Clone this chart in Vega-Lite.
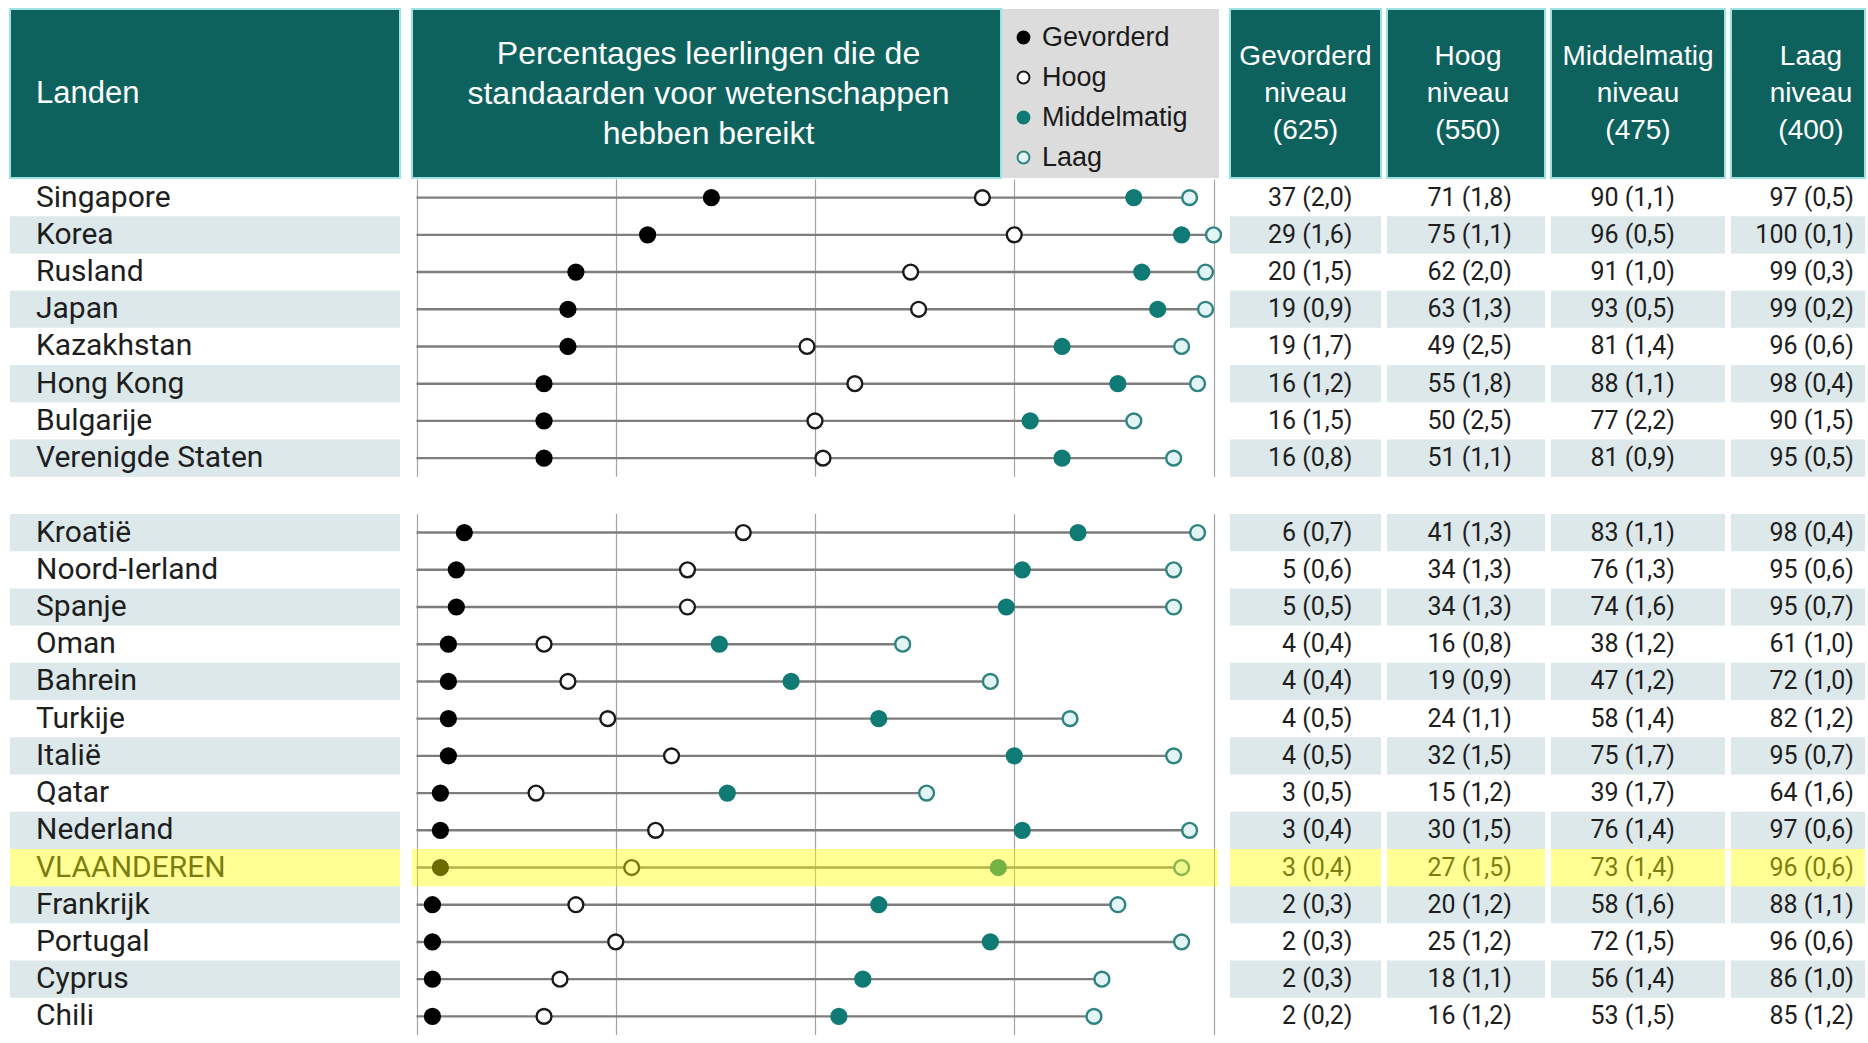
{
  "$schema": "https://vega.github.io/schema/vega-lite/v6.json",
  "background": "white",
  "padding": {"left": 9, "top": 8, "right": 0, "bottom": 0},
  "config": {"view": {"stroke": null}},
  "datasets": {
    "landen": [
      {"land": "Singapore", "groep": 1, "Gevorderd": 37, "Gevorderd_se": 2.0, "Hoog": 71, "Hoog_se": 1.8, "Middelmatig": 90, "Middelmatig_se": 1.1, "Laag": 97, "Laag_se": 0.5},
      {"land": "Korea", "groep": 1, "Gevorderd": 29, "Gevorderd_se": 1.6, "Hoog": 75, "Hoog_se": 1.1, "Middelmatig": 96, "Middelmatig_se": 0.5, "Laag": 100, "Laag_se": 0.1},
      {"land": "Rusland", "groep": 1, "Gevorderd": 20, "Gevorderd_se": 1.5, "Hoog": 62, "Hoog_se": 2.0, "Middelmatig": 91, "Middelmatig_se": 1.0, "Laag": 99, "Laag_se": 0.3},
      {"land": "Japan", "groep": 1, "Gevorderd": 19, "Gevorderd_se": 0.9, "Hoog": 63, "Hoog_se": 1.3, "Middelmatig": 93, "Middelmatig_se": 0.5, "Laag": 99, "Laag_se": 0.2},
      {"land": "Kazakhstan", "groep": 1, "Gevorderd": 19, "Gevorderd_se": 1.7, "Hoog": 49, "Hoog_se": 2.5, "Middelmatig": 81, "Middelmatig_se": 1.4, "Laag": 96, "Laag_se": 0.6},
      {"land": "Hong Kong", "groep": 1, "Gevorderd": 16, "Gevorderd_se": 1.2, "Hoog": 55, "Hoog_se": 1.8, "Middelmatig": 88, "Middelmatig_se": 1.1, "Laag": 98, "Laag_se": 0.4},
      {"land": "Bulgarije", "groep": 1, "Gevorderd": 16, "Gevorderd_se": 1.5, "Hoog": 50, "Hoog_se": 2.5, "Middelmatig": 77, "Middelmatig_se": 2.2, "Laag": 90, "Laag_se": 1.5},
      {"land": "Verenigde Staten", "groep": 1, "Gevorderd": 16, "Gevorderd_se": 0.8, "Hoog": 51, "Hoog_se": 1.1, "Middelmatig": 81, "Middelmatig_se": 0.9, "Laag": 95, "Laag_se": 0.5},
      {"land": "Kroatië", "groep": 2, "Gevorderd": 6, "Gevorderd_se": 0.7, "Hoog": 41, "Hoog_se": 1.3, "Middelmatig": 83, "Middelmatig_se": 1.1, "Laag": 98, "Laag_se": 0.4},
      {"land": "Noord-Ierland", "groep": 2, "Gevorderd": 5, "Gevorderd_se": 0.6, "Hoog": 34, "Hoog_se": 1.3, "Middelmatig": 76, "Middelmatig_se": 1.3, "Laag": 95, "Laag_se": 0.6},
      {"land": "Spanje", "groep": 2, "Gevorderd": 5, "Gevorderd_se": 0.5, "Hoog": 34, "Hoog_se": 1.3, "Middelmatig": 74, "Middelmatig_se": 1.6, "Laag": 95, "Laag_se": 0.7},
      {"land": "Oman", "groep": 2, "Gevorderd": 4, "Gevorderd_se": 0.4, "Hoog": 16, "Hoog_se": 0.8, "Middelmatig": 38, "Middelmatig_se": 1.2, "Laag": 61, "Laag_se": 1.0},
      {"land": "Bahrein", "groep": 2, "Gevorderd": 4, "Gevorderd_se": 0.4, "Hoog": 19, "Hoog_se": 0.9, "Middelmatig": 47, "Middelmatig_se": 1.2, "Laag": 72, "Laag_se": 1.0},
      {"land": "Turkije", "groep": 2, "Gevorderd": 4, "Gevorderd_se": 0.5, "Hoog": 24, "Hoog_se": 1.1, "Middelmatig": 58, "Middelmatig_se": 1.4, "Laag": 82, "Laag_se": 1.2},
      {"land": "Italië", "groep": 2, "Gevorderd": 4, "Gevorderd_se": 0.5, "Hoog": 32, "Hoog_se": 1.5, "Middelmatig": 75, "Middelmatig_se": 1.7, "Laag": 95, "Laag_se": 0.7},
      {"land": "Qatar", "groep": 2, "Gevorderd": 3, "Gevorderd_se": 0.5, "Hoog": 15, "Hoog_se": 1.2, "Middelmatig": 39, "Middelmatig_se": 1.7, "Laag": 64, "Laag_se": 1.6},
      {"land": "Nederland", "groep": 2, "Gevorderd": 3, "Gevorderd_se": 0.4, "Hoog": 30, "Hoog_se": 1.5, "Middelmatig": 76, "Middelmatig_se": 1.4, "Laag": 97, "Laag_se": 0.6},
      {"land": "VLAANDEREN", "groep": 2, "Gevorderd": 3, "Gevorderd_se": 0.4, "Hoog": 27, "Hoog_se": 1.5, "Middelmatig": 73, "Middelmatig_se": 1.4, "Laag": 96, "Laag_se": 0.6},
      {"land": "Frankrijk", "groep": 2, "Gevorderd": 2, "Gevorderd_se": 0.3, "Hoog": 20, "Hoog_se": 1.2, "Middelmatig": 58, "Middelmatig_se": 1.6, "Laag": 88, "Laag_se": 1.1},
      {"land": "Portugal", "groep": 2, "Gevorderd": 2, "Gevorderd_se": 0.3, "Hoog": 25, "Hoog_se": 1.2, "Middelmatig": 72, "Middelmatig_se": 1.5, "Laag": 96, "Laag_se": 0.6},
      {"land": "Cyprus", "groep": 2, "Gevorderd": 2, "Gevorderd_se": 0.3, "Hoog": 18, "Hoog_se": 1.1, "Middelmatig": 56, "Middelmatig_se": 1.4, "Laag": 86, "Laag_se": 1.0},
      {"land": "Chili", "groep": 2, "Gevorderd": 2, "Gevorderd_se": 0.2, "Hoog": 16, "Hoog_se": 1.2, "Middelmatig": 53, "Middelmatig_se": 1.5, "Laag": 85, "Laag_se": 1.2}
    ]
  },
  "spacing": 10,
  "hconcat": [
    {
      "spacing": 0,
      "vconcat": [
        {
          "width": 390, "height": 169,
          "view": {"fill": "#0e625e", "stroke": "#9fe2e4", "strokeWidth": 2},
          "data": {"values": [{"t": "Landen"}]},
          "mark": {"type": "text", "align": "left", "baseline": "middle", "dx": -169, "font": "Liberation Sans", "fontSize": 31, "fill": "white"},
          "encoding": {"text": {"field": "t", "type": "nominal"}}
        },
        {
          "width": 390, "height": 856,
          "data": {"name": "landen"},
          "transform": [
            {"window": [{"op": "row_number", "as": "nr"}]},
            {"calculate": "datum.nr + (datum.groep == 2 ? 1 : 0)", "as": "idx"}
          ],
          "encoding": {"y": {"field": "land", "type": "nominal", "sort": null, "axis": null, "scale": {"paddingInner": 0, "paddingOuter": 0, "domain": ["Singapore","Korea","Rusland","Japan","Kazakhstan","Hong Kong","Bulgarije","Verenigde Staten"," ","Kroatië","Noord-Ierland","Spanje","Oman","Bahrein","Turkije","Italië","Qatar","Nederland","VLAANDEREN","Frankrijk","Portugal","Cyprus","Chili"]}}},
          "layer": [
            {"transform": [{"filter": "datum.idx % 2 == 0"}], "mark": {"type": "rect", "fill": "#dce8ea"}},
            {"mark": {"type": "text", "align": "left", "baseline": "middle", "dx": -169, "font": "Roboto", "fontSize": 30, "fill": "#1e1e1e"}, "encoding": {"text": {"field": "land", "type": "nominal"}}},
            {"transform": [{"filter": "datum.land == 'VLAANDEREN'"}], "mark": {"type": "rect", "fill": "#ffff00", "opacity": 0.42}}
          ]
        }
      ]
    },
    {
      "spacing": 3,
      "hconcat": [
        {
          "spacing": 0,
          "vconcat": [
            {
              "spacing": 0,
              "hconcat": [
                {
                  "width": 589, "height": 169,
                  "view": {"fill": "#0e625e", "stroke": "#9fe2e4", "strokeWidth": 2},
                  "data": {"values": [{"t": ["Percentages leerlingen die de", "standaarden voor wetenschappen", "hebben bereikt"]}]},
                  "mark": {"type": "text", "align": "center", "baseline": "middle", "dx": 2, "dy": -40, "lineHeight": 40, "font": "Liberation Sans", "fontSize": 32, "fill": "white"},
                  "encoding": {"text": {"field": "t", "type": "nominal"}}
                },
                {
                  "width": 217, "height": 169,
                  "view": {"fill": "#dcdcdc", "stroke": null},
                  "data": {"values": [{"t": ""}]},
                  "mark": {"type": "text"},
                  "encoding": {"text": {"field": "t", "type": "nominal"}}
                }
              ]
            },
            {
              "width": 806, "height": 856,
              "data": {"name": "landen"},
              "encoding": {"y": {"field": "land", "type": "nominal", "sort": null, "axis": null, "scale": {"paddingInner": 0, "paddingOuter": 0, "domain": ["Singapore","Korea","Rusland","Japan","Kazakhstan","Hong Kong","Bulgarije","Verenigde Staten"," ","Kroatië","Noord-Ierland","Spanje","Oman","Bahrein","Turkije","Italië","Qatar","Nederland","VLAANDEREN","Frankrijk","Portugal","Cyprus","Chili"]}}},
              "layer": [
                {
                  "data": {"values": [{"land": " "}]},
                  "mark": {"type": "rect", "fill": "white"}
                },
                {
                  "mark": {"type": "rule", "color": "#7d7d7d", "strokeWidth": 2.4},
                  "encoding": {
                    "x": {"field": "Laag", "type": "quantitative", "scale": {"domain": [0, 100], "nice": false, "zero": false, "padding": 4.5}, "axis": {"grid": true, "values": [0, 25, 50, 75, 100], "labels": false, "ticks": false, "domain": false, "title": null, "gridColor": "#a3a3a3", "gridWidth": 1.2}},
                    "x2": {"datum": 0}
                  }
                },
                {
                  "transform": [{"fold": ["Gevorderd", "Hoog", "Middelmatig", "Laag"], "as": ["niveau", "pct"]}],
                  "mark": {"type": "circle", "size": 220, "strokeWidth": 2.4, "opacity": 1, "fillOpacity": 1},
                  "encoding": {
                    "x": {"field": "pct", "type": "quantitative", "scale": {"domain": [0, 100], "nice": false, "zero": false, "padding": 4.5}},
                    "fill": {"field": "niveau", "type": "nominal", "scale": {"domain": ["Gevorderd", "Hoog", "Middelmatig", "Laag"], "range": ["#000000", "#ffffff", "#107a74", "#e3f4f4"]}, "legend": {"title": null, "orient": "none", "legendX": 1000, "legendY": 15, "padding": 0, "symbolType": "circle", "symbolSize": 140, "symbolStrokeWidth": 2, "labelFont": "Liberation Sans", "labelFontSize": 27, "labelColor": "#1a1a1a", "labelOffset": 5, "rowPadding": 12}},
                    "stroke": {"field": "niveau", "type": "nominal", "scale": {"domain": ["Gevorderd", "Hoog", "Middelmatig", "Laag"], "range": ["#000000", "#1a1a1a", "#107a74", "#2f8380"]}, "legend": {"title": null, "orient": "none", "legendX": 1000, "legendY": 15, "padding": 0, "symbolType": "circle", "symbolSize": 140, "symbolStrokeWidth": 2, "labelFont": "Liberation Sans", "labelFontSize": 27, "labelColor": "#1a1a1a", "labelOffset": 5, "rowPadding": 12}}
                  }
                },
                {"transform": [{"filter": "datum.land == 'VLAANDEREN'"}], "mark": {"type": "rect", "fill": "#ffff00", "opacity": 0.42}}
              ]
            }
          ]
        },
        {
          "spacing": 4,
          "hconcat": [
            {
              "spacing": 0,
              "vconcat": [
                {
                  "width": 151, "height": 169,
                  "view": {"fill": "#0e625e", "stroke": "#9fe2e4", "strokeWidth": 2},
                  "data": {"values": [{"t": ["Gevorderd", "niveau", "(625)"]}]},
                  "mark": {"type": "text", "align": "center", "baseline": "middle", "dy": -37, "lineHeight": 37, "font": "Liberation Sans", "fontSize": 28, "fill": "white"},
                  "encoding": {"text": {"field": "t", "type": "nominal"}}
                },
                {
                  "width": 151, "height": 856,
                  "data": {"name": "landen"},
                  "transform": [
                    {"window": [{"op": "row_number", "as": "nr"}]},
                    {"calculate": "datum.nr + (datum.groep == 2 ? 1 : 0)", "as": "idx"},
                    {"calculate": "datum.Gevorderd + ' (' + replace(format(datum.Gevorderd_se, '.1f'), '.', ',') + ')'", "as": "lbl"}
                  ],
                  "encoding": {"y": {"field": "land", "type": "nominal", "sort": null, "axis": null, "scale": {"paddingInner": 0, "paddingOuter": 0, "domain": ["Singapore","Korea","Rusland","Japan","Kazakhstan","Hong Kong","Bulgarije","Verenigde Staten"," ","Kroatië","Noord-Ierland","Spanje","Oman","Bahrein","Turkije","Italië","Qatar","Nederland","VLAANDEREN","Frankrijk","Portugal","Cyprus","Chili"]}}},
                  "layer": [
                    {"transform": [{"filter": "datum.idx % 2 == 0"}], "mark": {"type": "rect", "fill": "#dce8ea"}},
                    {"mark": {"type": "text", "align": "right", "baseline": "middle", "dx": 47, "font": "Roboto", "fontSize": 25, "fill": "#1e1e1e"}, "encoding": {"text": {"field": "lbl", "type": "nominal"}}},
                    {"transform": [{"filter": "datum.land == 'VLAANDEREN'"}], "mark": {"type": "rect", "fill": "#ffff00", "opacity": 0.42}}
                  ]
                }
              ]
            },
            {
              "spacing": 0,
              "vconcat": [
                {
                  "width": 158, "height": 169,
                  "view": {"fill": "#0e625e", "stroke": "#9fe2e4", "strokeWidth": 2},
                  "data": {"values": [{"t": ["Hoog", "niveau", "(550)"]}]},
                  "mark": {"type": "text", "align": "center", "baseline": "middle", "dx": 2, "dy": -37, "lineHeight": 37, "font": "Liberation Sans", "fontSize": 28, "fill": "white"},
                  "encoding": {"text": {"field": "t", "type": "nominal"}}
                },
                {
                  "width": 158, "height": 856,
                  "data": {"name": "landen"},
                  "transform": [
                    {"window": [{"op": "row_number", "as": "nr"}]},
                    {"calculate": "datum.nr + (datum.groep == 2 ? 1 : 0)", "as": "idx"},
                    {"calculate": "datum.Hoog + ' (' + replace(format(datum.Hoog_se, '.1f'), '.', ',') + ')'", "as": "lbl"}
                  ],
                  "encoding": {"y": {"field": "land", "type": "nominal", "sort": null, "axis": null, "scale": {"paddingInner": 0, "paddingOuter": 0, "domain": ["Singapore","Korea","Rusland","Japan","Kazakhstan","Hong Kong","Bulgarije","Verenigde Staten"," ","Kroatië","Noord-Ierland","Spanje","Oman","Bahrein","Turkije","Italië","Qatar","Nederland","VLAANDEREN","Frankrijk","Portugal","Cyprus","Chili"]}}},
                  "layer": [
                    {"transform": [{"filter": "datum.idx % 2 == 0"}], "mark": {"type": "rect", "fill": "#dce8ea"}},
                    {"mark": {"type": "text", "align": "right", "baseline": "middle", "dx": 46, "font": "Roboto", "fontSize": 25, "fill": "#1e1e1e"}, "encoding": {"text": {"field": "lbl", "type": "nominal"}}},
                    {"transform": [{"filter": "datum.land == 'VLAANDEREN'"}], "mark": {"type": "rect", "fill": "#ffff00", "opacity": 0.42}}
                  ]
                }
              ]
            },
            {
              "spacing": 0,
              "vconcat": [
                {
                  "width": 174, "height": 169,
                  "view": {"fill": "#0e625e", "stroke": "#9fe2e4", "strokeWidth": 2},
                  "data": {"values": [{"t": ["Middelmatig", "niveau", "(475)"]}]},
                  "mark": {"type": "text", "align": "center", "baseline": "middle", "dy": -37, "lineHeight": 37, "font": "Liberation Sans", "fontSize": 28, "fill": "white"},
                  "encoding": {"text": {"field": "t", "type": "nominal"}}
                },
                {
                  "width": 174, "height": 856,
                  "data": {"name": "landen"},
                  "transform": [
                    {"window": [{"op": "row_number", "as": "nr"}]},
                    {"calculate": "datum.nr + (datum.groep == 2 ? 1 : 0)", "as": "idx"},
                    {"calculate": "datum.Middelmatig + ' (' + replace(format(datum.Middelmatig_se, '.1f'), '.', ',') + ')'", "as": "lbl"}
                  ],
                  "encoding": {"y": {"field": "land", "type": "nominal", "sort": null, "axis": null, "scale": {"paddingInner": 0, "paddingOuter": 0, "domain": ["Singapore","Korea","Rusland","Japan","Kazakhstan","Hong Kong","Bulgarije","Verenigde Staten"," ","Kroatië","Noord-Ierland","Spanje","Oman","Bahrein","Turkije","Italië","Qatar","Nederland","VLAANDEREN","Frankrijk","Portugal","Cyprus","Chili"]}}},
                  "layer": [
                    {"transform": [{"filter": "datum.idx % 2 == 0"}], "mark": {"type": "rect", "fill": "#dce8ea"}},
                    {"mark": {"type": "text", "align": "right", "baseline": "middle", "dx": 37, "font": "Roboto", "fontSize": 25, "fill": "#1e1e1e"}, "encoding": {"text": {"field": "lbl", "type": "nominal"}}},
                    {"transform": [{"filter": "datum.land == 'VLAANDEREN'"}], "mark": {"type": "rect", "fill": "#ffff00", "opacity": 0.42}}
                  ]
                }
              ]
            },
            {
              "spacing": 0,
              "vconcat": [
                {
                  "width": 134, "height": 169,
                  "view": {"fill": "#0e625e", "stroke": "#9fe2e4", "strokeWidth": 2},
                  "data": {"values": [{"t": ["Laag", "niveau", "(400)"]}]},
                  "mark": {"type": "text", "align": "center", "baseline": "middle", "dx": 13, "dy": -37, "lineHeight": 37, "font": "Liberation Sans", "fontSize": 28, "fill": "white"},
                  "encoding": {"text": {"field": "t", "type": "nominal"}}
                },
                {
                  "width": 134, "height": 856,
                  "data": {"name": "landen"},
                  "transform": [
                    {"window": [{"op": "row_number", "as": "nr"}]},
                    {"calculate": "datum.nr + (datum.groep == 2 ? 1 : 0)", "as": "idx"},
                    {"calculate": "datum.Laag + ' (' + replace(format(datum.Laag_se, '.1f'), '.', ',') + ')'", "as": "lbl"}
                  ],
                  "encoding": {"y": {"field": "land", "type": "nominal", "sort": null, "axis": null, "scale": {"paddingInner": 0, "paddingOuter": 0, "domain": ["Singapore","Korea","Rusland","Japan","Kazakhstan","Hong Kong","Bulgarije","Verenigde Staten"," ","Kroatië","Noord-Ierland","Spanje","Oman","Bahrein","Turkije","Italië","Qatar","Nederland","VLAANDEREN","Frankrijk","Portugal","Cyprus","Chili"]}}},
                  "layer": [
                    {"transform": [{"filter": "datum.idx % 2 == 0"}], "mark": {"type": "rect", "fill": "#dce8ea"}},
                    {"mark": {"type": "text", "align": "right", "baseline": "middle", "dx": 56, "font": "Roboto", "fontSize": 25, "fill": "#1e1e1e"}, "encoding": {"text": {"field": "lbl", "type": "nominal"}}},
                    {"transform": [{"filter": "datum.land == 'VLAANDEREN'"}], "mark": {"type": "rect", "fill": "#ffff00", "opacity": 0.42}}
                  ]
                }
              ]
            }
          ]
        }
      ]
    }
  ]
}
